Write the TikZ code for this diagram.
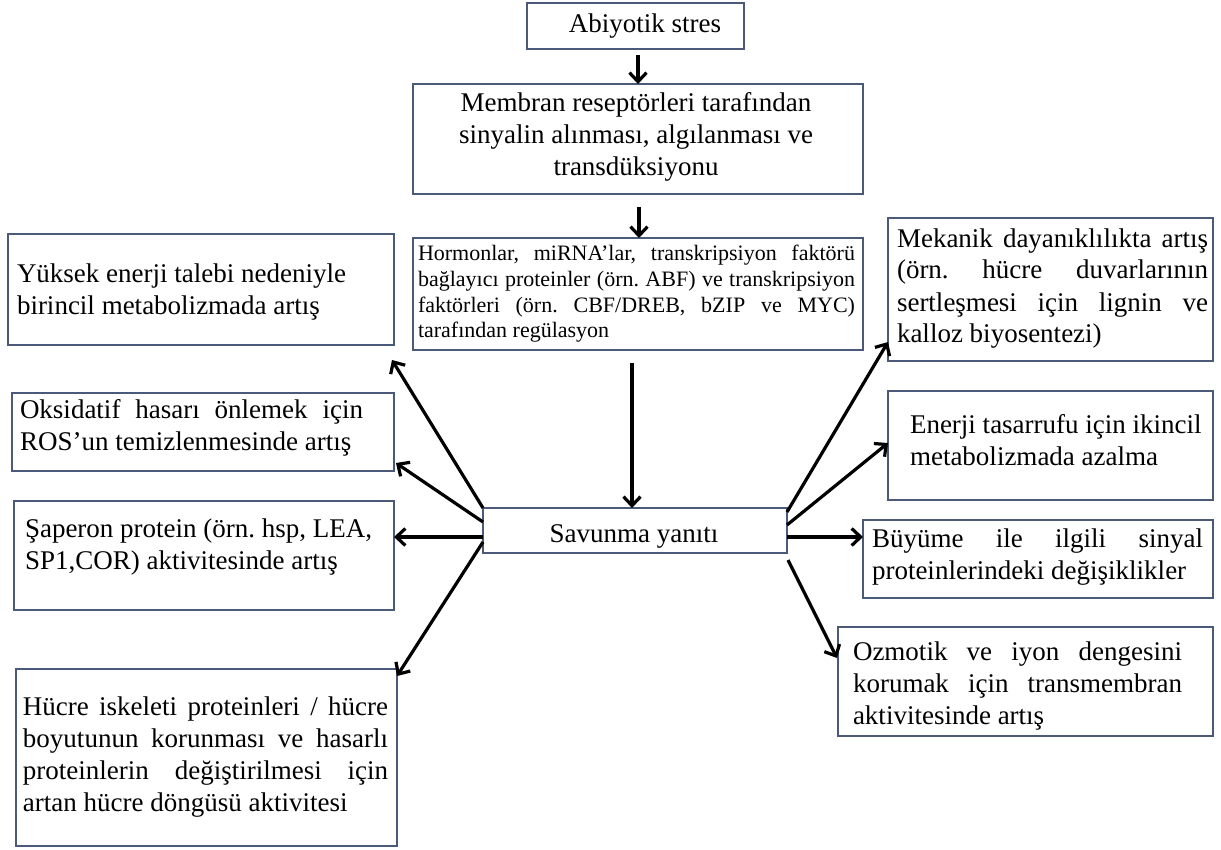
\documentclass[tikz,border=0pt]{standalone}
\usepackage{fontspec}
\setmainfont{Liberation Serif}
\usetikzlibrary{arrows.meta,calc}
\definecolor{bordercol}{HTML}{4A5A78}
\newcommand\jl[2]{\makebox[#1][s]{#2}}
\frenchspacing
\begin{document}
\begin{tikzpicture}[x=1pt,y=-1pt,
 box/.style={draw=bordercol, line width=1.6pt, inner sep=0pt, outer sep=0pt},
 txt/.style={inner sep=0pt, outer sep=0pt, anchor=north west, align=left, font=\fontsize{27}{32}\selectfont},
 smalltxt/.style={txt, font=\fontsize{22}{25.7}\selectfont},
 arr/.style={line width=3.2pt, -{Straight Barb[length=9pt,width=17pt]}}
]
\useasboundingbox[fill=white] (0,0) rectangle (1221,850);

% boxes
\node[box, minimum width=217pt, minimum height=46pt] (abi) at (635.5,26) {};
\node[box, minimum width=450pt, minimum height=110pt] (mem) at (638,139) {};
\node[box, minimum width=450pt, minimum height=112pt] (hor) at (638,294) {};
\node[box, minimum width=304pt, minimum height=45pt] (sav) at (635,530.5) {};

\node[box, minimum width=386pt, minimum height=111pt] (yuk) at (201,289.5) {};
\node[box, minimum width=382pt, minimum height=78pt] (oks) at (203,432) {};
\node[box, minimum width=380pt, minimum height=109pt] (sap) at (204,555.5) {};
\node[box, minimum width=381pt, minimum height=177pt] (huc) at (206.5,757.5) {};

\node[box, minimum width=325pt, minimum height=143pt] (mek) at (1050.5,289.5) {};
\node[box, minimum width=325pt, minimum height=109pt] (ene) at (1050.5,445.5) {};
\node[box, minimum width=350pt, minimum height=78pt] (buy) at (1038,559) {};
\node[box, minimum width=375pt, minimum height=109pt] (ozm) at (1025.5,681.5) {};

% texts
\node[txt, anchor=base] (abiT) at (645,33) {Abiyotik stres};
\node[txt, anchor=north, align=center] (memT) at (636,89.6) {\strut Membran reseptörleri tarafından\\ sinyalin alınması, algılanması ve\\ transdüksiyonu};
\node[smalltxt] (horT) at (418,242.8) {\strut\jl{437pt}{Hormonlar, miRNA’lar, transkripsiyon faktörü}\\ \jl{437pt}{bağlayıcı proteinler (örn. ABF) ve transkripsiyon}\\ \jl{437pt}{faktörleri (örn. CBF/DREB, bZIP ve MYC)}\\ tarafından regülasyon};
\node[txt, anchor=base] (savT) at (634,542) {Savunma yanıtı};

\node[txt] (yukT) at (17,260.6) {\strut Yüksek enerji talebi nedeniyle\\ birincil metabolizmada artış};
\node[txt] (oksT) at (20,395.6) {\strut\jl{343pt}{Oksidatif hasarı önlemek için}\\ ROS’un temizlenmesinde artış};
\node[txt] (sapT) at (25,514.6) {\strut Şaperon protein (örn. hsp, LEA,\\ SP1,COR) aktivitesinde artış};
\node[txt] (hucT) at (23,692.6) {\strut\jl{365pt}{Hücre iskeleti proteinleri / hücre}\\ \jl{365pt}{boyutunun korunması ve hasarlı}\\ \jl{365pt}{proteinlerin değiştirilmesi için}\\ artan hücre döngüsü aktivitesi};

\node[txt] (mekT) at (897,224.6) {\strut\jl{311pt}{Mekanik dayanıklılıkta artış}\\ \jl{311pt}{(örn. hücre duvarlarının}\\ \jl{311pt}{sertleşmesi için lignin ve}\\ kalloz biyosentezi)};
\node[txt] (eneT) at (910,410.6) {\strut Enerji tasarrufu için ikincil\\ metabolizmada azalma};
\node[txt] (buyT) at (872,524.6) {\strut\jl{331pt}{Büyüme ile ilgili sinyal}\\ proteinlerindeki değişiklikler};
\node[txt] (ozmT) at (853,637.6) {\strut\jl{329pt}{Ozmotik ve iyon dengesini}\\ \jl{329pt}{korumak için transmembran}\\ aktivitesinde artış};

% vertical arrows
\coordinate (a1) at ($(abi.south)+(2.5,6)$);
\draw[arr] (a1) -- (a1 |- mem.north);
\coordinate (a2) at ($(mem.south)+(1,13)$);
\draw[arr] (a2) -- (a2 |- hor.north);
\coordinate (a3) at ($(hor.south)+(-6,13)$);
\draw[arr] (a3) -- (a3 |- sav.north);

% left arrows
\draw[arr] (sav.north west) -- ($(yuk.south east)+(-2,15)$);
\draw[arr] ($(sav.west)+(0,-8.5)$) -- ($(oks.south east)+(2,-8)$);
\coordinate (l3) at ($(sav.west)+(0,6.5)$);
\draw[arr] (l3) -- (l3 -| sap.east);
\draw[arr] ($(sav.west)+(0,11.5)$) -- ($(huc.north east)+(0,7)$);

% right arrows
\draw[arr] ($(sav.east)+(0,-18.5)$) -- ($(mek.south west)+(0,-19)$);
\draw[arr] ($(sav.east)+(0,-5.5)$) -- ($(ene.west)+(0,-2.5)$);
\coordinate (r3) at ($(sav.east)+(0,6.5)$);
\draw[arr] (r3) -- (r3 -| buy.west);
\draw[arr] ($(sav.south east)+(1,7)$) -- ($(ozm.west)+(-1,-23.5)$);
\end{tikzpicture}
\end{document}
